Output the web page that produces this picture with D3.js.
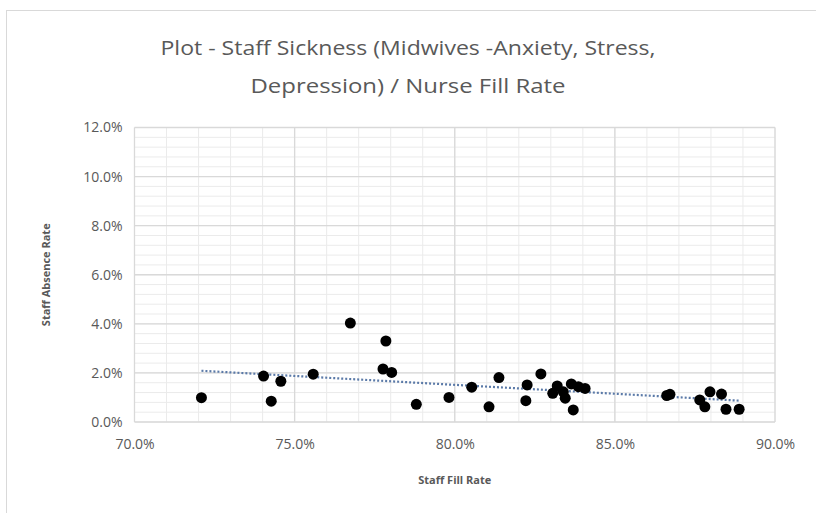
<!DOCTYPE html>
<html>
<head>
<meta charset="utf-8">
<script src="https://cdn.jsdelivr.net/npm/d3@7"></script>
<style>
  body { margin: 0; background: #fff; }
  text { font-family: "Open Sans", "Liberation Sans", sans-serif; fill: #595959; }
</style>
</head>
<body>
<div id="chart"></div>
<script>
// fill rate (%) and absence rate (%) per ward-month
const fillRate = [72.09, 74.03, 74.27, 74.57, 75.58, 76.74, 77.85, 77.76, 78.03, 78.80,
  79.82, 80.53, 81.07, 81.38, 82.22, 82.26, 82.69, 83.06, 83.20, 83.39, 83.45, 83.64,
  83.70, 83.86, 84.07, 86.62, 86.72, 87.65, 87.81, 87.97, 88.33, 88.47, 88.88];
const absenceRate = [0.99, 1.87, 0.85, 1.66, 1.95, 4.03, 3.30, 2.16, 2.02, 0.72,
  1.00, 1.42, 0.62, 1.81, 0.87, 1.51, 1.96, 1.17, 1.47, 1.23, 0.97, 1.55,
  0.49, 1.44, 1.37, 1.08, 1.13, 0.90, 0.62, 1.23, 1.14, 0.52, 0.52];
const xTicks = [70, 75, 80, 85, 90];
const yTicks = [0, 2, 4, 6, 8, 10, 12];
const titleLines = ["Plot - Staff Sickness (Midwives -Anxiety, Stress,", "Depression) / Nurse Fill Rate"];

const width = 816, height = 513;
const margin = { top: 127.5, right: 41, bottom: 91, left: 134.5 };

const svg = d3.select("#chart").append("svg")
  .attr("width", width)
  .attr("height", height);

// chart frame
svg.append("rect")
  .attr("x", 6.5).attr("y", 10.5)
  .attr("width", width + 10).attr("height", height + 10)
  .attr("fill", "#fff").attr("stroke", "#d9d9d9");

const x = d3.scaleLinear().domain([70, 90]).range([margin.left, width - margin.right]);
const y = d3.scaleLinear().domain([0, 12]).range([height - margin.bottom, margin.top]);

// minor grid
const grid = svg.append("g");
grid.selectAll(".vminor").data(d3.range(70, 90.01, 1))
  .join("line")
  .attr("x1", d => x(d)).attr("x2", d => x(d))
  .attr("y1", y(0)).attr("y2", y(12))
  .attr("stroke", "#ebebeb").attr("stroke-width", 1);
grid.selectAll(".hminor").data(d3.range(0, 12.01, 0.4))
  .join("line")
  .attr("x1", x(70)).attr("x2", x(90))
  .attr("y1", d => y(d)).attr("y2", d => y(d))
  .attr("stroke", "#ebebeb").attr("stroke-width", 1);

// major grid
grid.selectAll(".vmajor").data(xTicks)
  .join("line")
  .attr("x1", d => x(d)).attr("x2", d => x(d))
  .attr("y1", y(0)).attr("y2", y(12))
  .attr("stroke", "#d9d9d9").attr("stroke-width", 1.3);
grid.selectAll(".hmajor").data(yTicks)
  .join("line")
  .attr("x1", x(70)).attr("x2", x(90))
  .attr("y1", d => y(d)).attr("y2", d => y(d))
  .attr("stroke", "#d9d9d9").attr("stroke-width", 1.3);

// axes (labels only, Excel style)
const xAxis = svg.append("g")
  .attr("transform", `translate(0,${y(0)})`)
  .call(d3.axisBottom(x).tickValues(xTicks).tickSize(0).tickPadding(17)
    .tickFormat(d => d.toFixed(1) + "%"));
xAxis.select(".domain").remove();
xAxis.selectAll("text").attr("font-size", 14).attr("fill", "#595959")
  .attr("font-family", "'Open Sans', sans-serif");

const yAxis = svg.append("g")
  .attr("transform", `translate(${x(70)},0)`)
  .call(d3.axisLeft(y).tickValues(yTicks).tickSize(0).tickPadding(12)
    .tickFormat(d => d.toFixed(1) + "%"));
yAxis.select(".domain").remove();
yAxis.selectAll("text").attr("font-size", 14).attr("fill", "#595959")
  .attr("font-family", "'Open Sans', sans-serif");

// linear trendline (least squares)
const mx = d3.mean(fillRate), my = d3.mean(absenceRate);
const slope = d3.sum(fillRate, (v, i) => (v - mx) * (absenceRate[i] - my)) /
  d3.sum(fillRate, v => (v - mx) * (v - mx));
const icpt = my - slope * mx;
const [x0, x1] = d3.extent(fillRate);
svg.append("line")
  .attr("x1", x(x0)).attr("y1", y(icpt + slope * x0))
  .attr("x2", x(x1)).attr("y2", y(icpt + slope * x1))
  .attr("stroke", "#5b7aa8").attr("stroke-width", 2.2)
  .attr("stroke-dasharray", "2,2");

// points
svg.append("g").selectAll("circle")
  .data(fillRate.map((v, i) => [v, absenceRate[i]]))
  .join("circle")
  .attr("cx", d => x(d[0]))
  .attr("cy", d => y(d[1]))
  .attr("r", 5.5)
  .attr("fill", "#000");

// title
const titleWidths = [495, 315];
svg.append("g").selectAll("text").data(titleLines)
  .join("text")
  .attr("x", 408).attr("y", (d, i) => 55 + i * 38)
  .attr("text-anchor", "middle")
  .attr("font-size", 20)
  .attr("textLength", (d, i) => titleWidths[i])
  .attr("lengthAdjust", "spacingAndGlyphs")
  .text(d => d);

// axis titles
svg.append("text")
  .attr("x", x(80)).attr("y", 484)
  .attr("text-anchor", "middle")
  .attr("font-size", 11).attr("font-weight", "bold")
  .text("Staff Fill Rate");

svg.append("text")
  .attr("transform", `translate(50,${y(6)}) rotate(-90)`)
  .attr("text-anchor", "middle")
  .attr("font-size", 11).attr("font-weight", "bold")
  .text("Staff Absence Rate");
</script>
</body>
</html>
